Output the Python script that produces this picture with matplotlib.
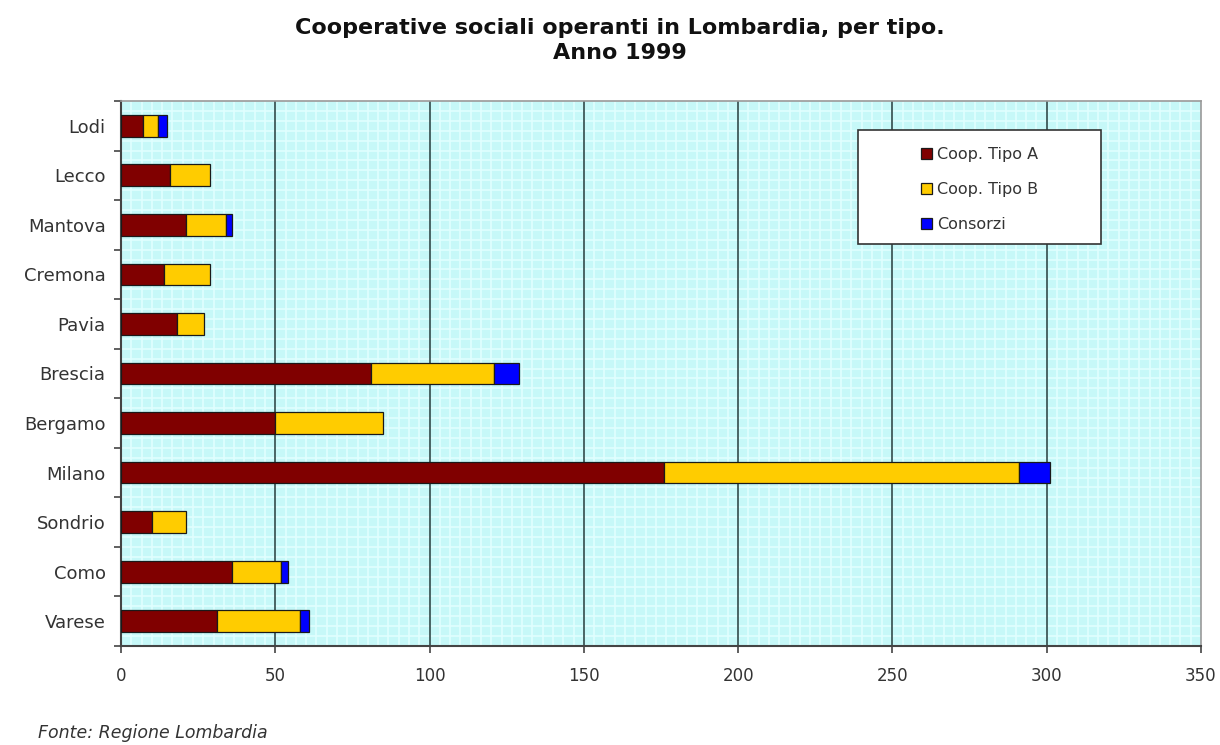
import matplotlib
matplotlib.use("Agg")
import matplotlib.pyplot as plt
import numpy as np
from matplotlib.patches import Rectangle

plt.rcParams['font.family'] = ['DejaVu Sans']

provinces = ["Lodi", "Lecco", "Mantova", "Cremona", "Pavia", "Brescia",
             "Bergamo", "Milano", "Sondrio", "Como", "Varese"]
tipo_a = [7, 16, 21, 14, 18, 81, 50, 176, 10, 36, 31]
tipo_b = [5, 13, 13, 15, 9, 40, 35, 115, 11, 16, 27]
consorzi = [3, 0, 2, 0, 0, 8, 0, 10, 0, 2, 3]
series_labels = ["Coop. Tipo A", "Coop. Tipo B", "Consorzi"]
x_ticks = [0, 50, 100, 150, 200, 250, 300, 350]

fig = plt.figure(figsize=(12.2, 7.45), dpi=100)
ax = fig.add_axes([121/1220, 1-646/745, (1201-121)/1220, (646-101)/745])

ax.set_facecolor('#c6f8f8')
# fine background grid texture
for xv in np.arange(0, 350, 50/15):
    ax.axvline(xv, color='#e0ffff', lw=1.2, zorder=0.5)
for yv in np.arange(-0.5, 10.6, 0.2):
    ax.axhline(yv, color='#e0ffff', lw=1.2, zorder=0.5)

y = np.arange(len(provinces))
h = 0.44
a = np.array(tipo_a); b = np.array(tipo_b); c = np.array(consorzi)
ba = ax.barh(y, a, height=h, color='#800000', edgecolor='#1a1a1a', lw=0.9, zorder=3)
bb = ax.barh(y, b, left=a, height=h, color='#ffcc00', edgecolor='#1a1a1a', lw=0.9, zorder=3)
mask = c > 0
bc = ax.barh(y[mask], c[mask], left=(a+b)[mask], height=h, color='#0000ff', edgecolor='#1a1a1a', lw=0.9, zorder=3)

for xv in x_ticks[1:-1]:
    ax.axvline(xv, color='#2f4a4a', lw=1.2, zorder=1)

ax.set_xlim(0, 350)
ax.set_ylim(len(provinces)-0.5, -0.5)
ax.set_xticks(x_ticks)
ax.set_xticklabels([str(v) for v in x_ticks], fontsize=12, color='#333333')
ax.set_yticks(y)
ax.set_yticklabels(provinces, fontsize=13, color='#333333')
ax.tick_params(axis='y', which='major', length=0, pad=11)
ax.set_yticks(np.arange(-0.5, len(provinces), 1), minor=True)
ax.tick_params(axis='y', which='minor', length=5, width=1.2, color='#444444', direction='out')
ax.tick_params(axis='x', length=5, width=1.2, color='#444444', direction='out', pad=10)

for s in ['left', 'bottom']:
    ax.spines[s].set_color('#444444')
    ax.spines[s].set_linewidth(1.5)
for s in ['top', 'right']:
    ax.spines[s].set_color('#999999')
    ax.spines[s].set_linewidth(1.2)

fig.text(0.508, 1-28/745, "Cooperative sociali operanti in Lombardia, per tipo.",
         ha='center', va='center', fontsize=16, fontweight='bold', color='#111111')
fig.text(0.508, 1-53/745, "Anno 1999", ha='center', va='center',
         fontsize=16, fontweight='bold', color='#111111')
fig.text(38/1220, 1-733/745, "Fonte: Regione Lombardia", ha='left', va='center',
         fontsize=12.5, style='italic', color='#333333')

# legend box
box = Rectangle((858/1220, 1-244/745), (1101-858)/1220, (244-130)/745,
                transform=fig.transFigure, facecolor='white', edgecolor='#333333',
                lw=1.2, zorder=4)
ax.add_patch(box)
box.set_clip_on(False)
leg = ax.legend([ba, bb, bc], series_labels, loc='upper left',
                bbox_to_anchor=(908/1220, 1-134/745), bbox_transform=fig.transFigure,
                frameon=False, fontsize=11.5, handlelength=0.7, handleheight=0.7,
                handletextpad=0.3, labelspacing=1.25, borderpad=0.3)
for t in leg.get_texts():
    t.set_color('#333333')
leg.set_zorder(5)

fig.savefig("out.png", dpi=100)
